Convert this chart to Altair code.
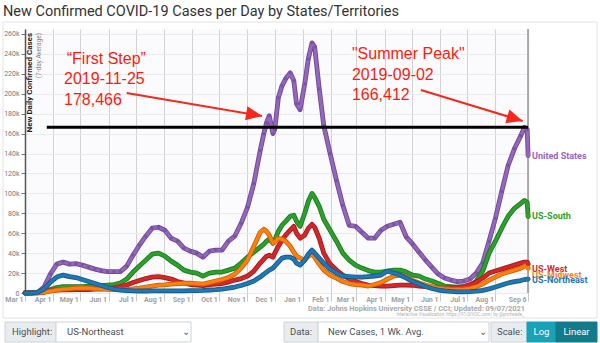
import altair as alt
import pandas as pd

# ---------------- data (values in thousands of cases per day, 7-day avg) ----------------
dates = [
    "2020-03-01", "2020-03-08", "2020-03-15", "2020-03-22", "2020-03-29",
    "2020-04-05", "2020-04-12", "2020-04-19", "2020-04-26", "2020-05-03",
    "2020-05-10", "2020-05-17", "2020-05-24", "2020-05-31", "2020-06-07",
    "2020-06-14", "2020-06-21", "2020-06-28", "2020-07-05", "2020-07-12",
    "2020-07-19", "2020-07-26", "2020-08-02", "2020-08-09", "2020-08-16",
    "2020-08-23", "2020-08-30", "2020-09-06", "2020-09-13", "2020-09-20",
    "2020-09-27", "2020-10-04", "2020-10-11", "2020-10-18", "2020-10-25",
    "2020-11-01", "2020-11-08", "2020-11-15", "2020-11-19", "2020-11-22",
    "2020-11-25", "2020-11-29", "2020-12-01", "2020-12-05", "2020-12-09",
    "2020-12-13", "2020-12-18", "2020-12-22", "2020-12-25", "2020-12-29",
    "2021-01-03", "2021-01-07", "2021-01-11", "2021-01-14", "2021-01-19",
    "2021-01-24", "2021-01-31", "2021-02-07", "2021-02-14", "2021-02-21",
    "2021-02-28", "2021-03-07", "2021-03-14", "2021-03-21", "2021-03-28",
    "2021-04-04", "2021-04-11", "2021-04-18", "2021-04-25", "2021-05-02",
    "2021-05-09", "2021-05-16", "2021-05-23", "2021-05-30", "2021-06-06",
    "2021-06-13", "2021-06-20", "2021-06-27", "2021-07-04", "2021-07-11",
    "2021-07-18", "2021-07-25", "2021-08-01", "2021-08-08", "2021-08-15",
    "2021-08-22", "2021-08-29", "2021-09-02", "2021-09-05", "2021-09-06",
]

us = [
    0, 0.1, 0.6, 6, 19, 29, 31, 29, 29.5, 28,
    26, 24, 22.5, 21.5, 21.5, 21.5, 27, 38, 48, 57,
    65, 66, 63, 55, 52, 45, 42, 40, 36, 42,
    43, 43, 52, 57, 70, 86, 110, 143, 160, 171,
    178, 160, 164, 196, 208, 215, 221, 213, 190, 184,
    210, 235, 251, 247, 205, 168, 140, 113, 88, 68,
    67, 61, 55, 55, 63, 67, 69, 71, 56, 49,
    41, 33, 26, 19, 15, 13, 11.5, 12, 14, 20,
    30, 52, 75, 102, 128, 145, 158, 166.4, 164, 138,
]
south = [
    0, 0, 0.1, 1, 3.5, 5.5, 6.5, 6.3, 6.5, 6.5,
    6.8, 7, 7.5, 8, 8.5, 10, 14, 21, 27, 33,
    39, 40, 37, 32, 28, 23, 21, 20, 17, 20,
    21, 21, 23, 25, 30, 36, 41, 46, 49, 52,
    54, 50, 53, 62, 68, 72, 77, 78, 72, 67,
    80, 92, 100, 96, 87, 74, 63, 52, 40, 33,
    28, 25, 22.5, 21, 21, 22, 23, 23, 21, 18,
    17, 14, 12, 9.5, 7, 6.5, 6, 6, 6.5, 12,
    22, 40, 52, 65, 77, 85, 90, 93, 91, 77,
]
west = [
    0, 0.1, 0.3, 1.2, 2.5, 3, 3.2, 3.2, 3.3, 3.4,
    3.5, 3.8, 4.2, 4.6, 5.2, 6.5, 8, 10.5, 12.5, 14.5,
    16, 16.5, 15.5, 14, 11.5, 10, 8.5, 8, 7.5, 8.5,
    9, 9.5, 11, 13, 14.5, 17, 22, 30, 34, 37,
    38, 36, 40, 47, 53, 58, 63, 67, 60, 55,
    58, 65, 69, 66, 55, 40, 29, 23, 18, 14.5,
    11.5, 9.5, 8, 7.5, 7, 7, 7.5, 8, 8, 7.8,
    7, 6.5, 6, 5.2, 4.8, 5, 5.5, 6.5, 8.5, 11,
    15, 20, 22, 24, 26, 28, 30, 31, 31, 29,
]
midwest = [
    0, 0, 0.1, 0.5, 1.8, 3, 3.8, 4.2, 4.8, 5,
    4.8, 4.3, 4, 3.6, 3.4, 3.3, 3.5, 4.2, 5, 6,
    7, 7.8, 8.2, 8.8, 9.5, 9.8, 10, 9.5, 9, 10.5,
    12, 13.5, 15.5, 19, 25, 33, 47, 61, 64, 62,
    58, 50, 51, 55, 54, 52, 47, 41, 37, 35,
    33, 37, 39, 36, 29, 23, 18, 15, 11.5, 9.5,
    8.5, 8, 7, 8.5, 10.5, 14, 17, 18, 16, 12.5,
    10, 8, 6.5, 5, 4.3, 3.8, 3.5, 3.8, 4.5, 6.5,
    9, 13, 16, 19, 21, 23, 25, 27, 28, 25,
]
northeast = [
    0, 0.1, 0.6, 4, 11, 16, 18, 16.5, 15.5, 13.5,
    11.5, 9.5, 7.5, 5.5, 4, 3, 2.5, 2.2, 2, 2,
    2.1, 2.2, 2.2, 2.2, 2.2, 2.2, 2.3, 2.4, 2.6, 3,
    3.3, 4, 4.8, 6, 7.5, 9.5, 12, 16, 19, 21,
    23, 25, 27, 31, 35, 36, 36, 34, 30, 28,
    33, 39, 43, 40, 35, 30, 24, 20, 17, 16.5,
    16, 16, 16.5, 17, 18, 22, 20, 18, 15, 11.5,
    9, 6.5, 4.5, 3, 2.2, 1.6, 1.2, 1.2, 1.3, 1.8,
    2.7, 4.2, 6, 8, 10, 11.5, 12.5, 13.5, 14, 14,
]

series_names = ["United States", "US-South", "US-West", "US-Midwest", "US-Northeast"]
series_values = [us, south, west, midwest, northeast]
series_colors = ["#9467bd", "#2ca02c", "#d62728", "#ff7f0e", "#1f77b4"]
series_edges = ["#6f4a94", "#1d7a1d", "#a01c1d", "#c9630a", "#16598a"]
label_dy = [0, 0, 5, 7, 1]

x_ticks = [
    "2020-03-01", "2020-04-01", "2020-05-01", "2020-06-01", "2020-07-01",
    "2020-08-01", "2020-09-01", "2020-10-01", "2020-11-01", "2020-12-01",
    "2021-01-01", "2021-02-01", "2021-03-01", "2021-04-01", "2021-05-01",
    "2021-06-01", "2021-07-01", "2021-08-01", "2021-09-06",
]
y_ticks = list(range(0, 261, 20))

# annotations (data coordinates)
ref_line = {"start": "2020-03-25", "end": "2021-09-06", "value": 166.4}
ann_texts = ["\u201cFirst Step\u201d", "2019-11-25", "178,466",
             "\"Summer Peak\"", "2019-09-02", "166,412"]
ann_dates = ["2020-04-16", "2020-04-13", "2020-04-13",
             "2021-02-24", "2021-02-24", "2021-02-24"]
ann_values = [235, 214.8, 193.7, 240, 219, 198.7]
arrow_start_dates = ["2020-06-21", "2021-05-11"]
arrow_start_values = [200.8, 203.8]
arrow_end_dates = ["2020-11-17", "2021-08-31"]
arrow_end_values = [177.7, 172.7]
arrow_angles = [9.7, 16.9]

# ---------------- helpers ----------------
def dt(s):
    y, m, d = (int(p) for p in s.split("-"))
    return alt.DateTime(year=y, month=m, date=d, utc=True)

W, H = 504, 264
X0, Y0 = 25, 29  # plot origin inside the 600x343 page

x_scale = alt.Scale(type="utc", domain=[dt("2020-03-01"), dt("2021-09-07")])
y_scale = alt.Scale(domain=[0, 265], nice=False)

x_axis = alt.Axis(
    values=[dt(s) for s in x_ticks],
    labelExpr="utcFormat(datum.value, '%b %-d')",
    labelAlign="right", labelOffset=-2, labelPadding=-6, labelBaseline="top",
    labelFontSize=7, labelColor="#a0a0a0", labelFont="Roboto", labelFontWeight="bold",
    tickSize=8, tickColor="#c8c8c8", tickWidth=1,
    grid=True, gridColor="#d2d2d2", gridWidth=1,
    domain=False, title=None,
)
y_axis = alt.Axis(
    values=y_ticks,
    labelExpr="datum.value == 0 ? '0' : datum.value + 'k'",
    labelFontSize=7, labelColor="#777777", labelFont="Roboto", labelPadding=2,
    tickSize=4, tickColor="#777777",
    grid=True, gridColor="#ebebeb", gridWidth=1,
    domain=True, domainColor="#555555", domainWidth=1.5, title=None,
)


def X(field):
    return alt.X(field, type="temporal", scale=x_scale, axis=x_axis)


def Y(field):
    return alt.Y(field, type="quantitative", scale=y_scale, axis=y_axis)


rows = []
for name, vals in zip(series_names, series_values):
    assert len(vals) == len(dates), name
    for d, v in zip(dates, vals):
        rows.append({"date": d, "series": name, "value": v})
df = pd.DataFrame(rows)
one = pd.DataFrame({"k": [0]})

layers = []

# "today" line at the right edge
layers.append(
    alt.Chart(pd.DataFrame({"date": ["2021-09-06"]}))
    .mark_rule(color="#a8a8a8", strokeWidth=2)
    .encode(x=X("date"))
)

# series lines: draw United States first, highlighted US-Northeast last
for name, col, edge in zip(series_names, series_colors, series_edges):
    sub = df[df.series == name]
    base = alt.Chart(sub).encode(x=X("date"), y=Y("value"))
    layers.append(base.mark_line(color=edge, strokeWidth=4.8, strokeJoin="round", strokeCap="round"))
    layers.append(base.mark_line(color=col, strokeWidth=3, strokeJoin="round", strokeCap="round"))
    if name == "United States":
        layers.append(base.mark_circle(color="#7b52a6", size=11, opacity=1))

# end dots and labels
last = pd.DataFrame({"series": series_names,
                     "date": [dates[-1]] * 5,
                     "value": [v[-1] for v in series_values]})
for name, col, edge, dy in zip(series_names, series_colors, series_edges, label_dy):
    sub = last[last.series == name]
    base = alt.Chart(sub).encode(x=X("date"), y=Y("value"))
    layers.append(base.mark_circle(color=col, size=22, opacity=1))
    layers.append(base.mark_text(align="left", baseline="middle", dx=4, dy=dy, font="Roboto",
                                 fontSize=9, fontWeight="bold", color=col)
                  .encode(text="series:N"))

# black reference line
layers.append(
    alt.Chart(pd.DataFrame([ref_line]))
    .mark_rule(color="black", strokeWidth=3)
    .encode(x=X("start"), x2="end:T", y=Y("value"))
)

# red annotation texts
ann = pd.DataFrame({"text": ann_texts, "date": ann_dates, "value": ann_values})
layers.append(
    alt.Chart(ann).mark_text(align="left", baseline="middle", font="Liberation Sans",
                             fontSize=16, color="#ff1a0f")
    .encode(x=X("date"), y=Y("value"), text="text:N")
)

# arrows
arrows = pd.DataFrame({"sd": arrow_start_dates, "sv": arrow_start_values,
                       "ed": arrow_end_dates, "ev": arrow_end_values,
                       "angle": arrow_angles})
layers.append(
    alt.Chart(arrows).mark_rule(color="#f5281d", strokeWidth=2)
    .encode(x=X("sd"), y=Y("sv"), x2="ed:T", y2="ev:Q")
)
head_path = "M0,0 L-1,-0.45 L-1,0.45 Z"
layers.append(
    alt.Chart(arrows).mark_point(shape=head_path, size=1024, filled=True, color="#f5281d",
                                 opacity=1, strokeWidth=0)
    .encode(x=X("ed"), y=Y("ev"), angle=alt.Angle("angle:Q", scale=None))
)

# axis title inside the plot
layers.append(alt.Chart(one).mark_text(text="New Daily Confirmed Cases", angle=270, align="right",
                                       baseline="middle", font="Roboto", fontSize=8,
                                       fontWeight="bold", color="#222")
              .encode(x=alt.value(30 - X0), y=alt.value(33 - Y0)))
layers.append(alt.Chart(one).mark_text(text="(7-day Average)", angle=270, align="right",
                                       baseline="middle", font="Roboto", fontSize=6.5,
                                       color="#888")
              .encode(x=alt.value(38.5 - X0), y=alt.value(33 - Y0)))

# page title
layers.append(alt.Chart(one).mark_text(text="New Confirmed COVID-19 Cases per Day by States/Territories",
                                       align="left", baseline="middle", font="Roboto", fontSize=14.5,
                                       color="#333")
              .encode(x=alt.value(3 - X0), y=alt.value(11.5 - Y0)))

# outer frame of the chart panel
layers.append(alt.Chart(one).mark_rect(fill=None, stroke="#e2e2e2", strokeWidth=1)
              .encode(x=alt.value(3 - X0), x2=alt.value(597 - X0),
                      y=alt.value(22 - Y0), y2=alt.value(318 - Y0)))

# source lines (below the date labels)
layers.append(alt.Chart(one).mark_text(text="Data: Johns Hopkins University CSSE / CCI; Updated: 09/07/2021",
                                       align="right", baseline="middle", font="Roboto", fontSize=7.4,
                                       fontWeight="bold", color="#a8a8a8")
              .encode(x=alt.value(525 - X0), y=alt.value(308.5 - Y0)))
layers.append(alt.Chart(one).mark_text(text="Interactive Visualization: https://91-DIVOC.com/ by @profwade_",
                                       align="right", baseline="middle", font="Roboto", fontSize=4.5,
                                       color="#b0b0b0")
              .encode(x=alt.value(524 - X0), y=alt.value(314.5 - Y0)))

# control bar
def box(x1, x2, fill, stroke="#ced4da"):
    return (alt.Chart(one).mark_rect(fill=fill, stroke=stroke, strokeWidth=1)
            .encode(x=alt.value(x1 - X0), x2=alt.value(x2 - X0),
                    y=alt.value(322 - Y0), y2=alt.value(342 - Y0)))


def label(txt, x, color="#495057", align="left", weight="normal"):
    return (alt.Chart(one).mark_text(text=txt, align=align, baseline="middle", font="Roboto",
                                     fontSize=9.5, color=color, fontWeight=weight)
            .encode(x=alt.value(x - X0), y=alt.value(332 - Y0)))


layers += [
    box(5, 56, "#e9ecef"), box(56, 191, "white"),
    label("Highlight:", 12), label("US-Northeast", 67), label("\u2304", 186, "#666", "center"),
    box(284, 318, "#e9ecef"), box(318, 489, "white"),
    label("Data:", 290), label("New Cases, 1 Wk. Avg.", 328), label("\u2304", 483, "#666", "center"),
    box(491, 527, "#e9ecef"), box(527, 556, "#17a2b8", "#17a2b8"), box(556, 597, "#117a8b", "#117a8b"),
    label("Scale:", 497), label("Log", 541.5, "white", "center"), label("Linear", 576.5, "white", "center"),
]

chart = alt.layer(*layers).properties(
    width=W, height=H,
    autosize=alt.AutoSizeParams(type="none"),
    padding={"left": X0, "top": Y0, "right": 600 - X0 - W, "bottom": 343 - Y0 - H},
    background="white",
).configure_view(stroke=None, fill="#fbfbfd")

chart.save("out.html", embed_options={"renderer": "svg", "actions": False})
